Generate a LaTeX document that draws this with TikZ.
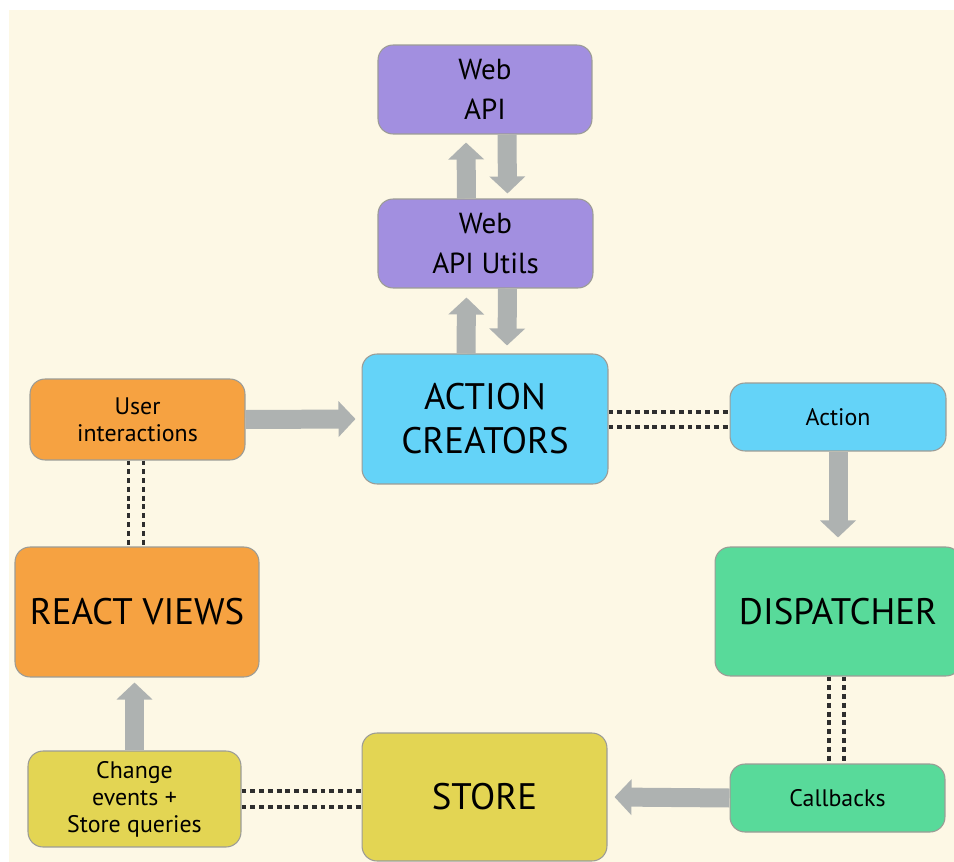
\documentclass[tikz,border=0pt]{standalone}
\usepackage{fontspec}
\setmainfont{PT Sans}
\usetikzlibrary{arrows.meta,calc}

\definecolor{bgcream}{HTML}{FDF8E5}
\definecolor{apipurple}{HTML}{A28FE0}
\definecolor{actioncyan}{HTML}{64D3F8}
\definecolor{vieworange}{HTML}{F6A241}
\definecolor{dispgreen}{HTML}{58DA9A}
\definecolor{storeyellow}{HTML}{E3D553}
\definecolor{arrowgray}{HTML}{AEB2B1}
\definecolor{edgegray}{HTML}{9C9C96}
\definecolor{dashgray}{HTML}{2E2E2E}

\tikzset{
  box/.style={rectangle, rounded corners=0.3cm, draw=edgegray, line width=0.6pt,
              align=center, inner sep=0pt, text=black},
  bigtext/.style={font=\fontsize{21}{25}\selectfont},
  midtext/.style={font=\fontsize{16.5}{23}\selectfont},
  smalltext/.style={font=\fontsize{13.6}{15.3}\selectfont},
  flowarrow/.style={draw=arrowgray, line width=0.38cm,
                    -{Triangle[width=0.70cm,length=0.34cm]}, arrowgray},
  linkpair/.style={draw=dashgray, line width=1.9pt, dash pattern=on 2.8pt off 2.2pt},
}

\begin{document}
\begin{tikzpicture}[x=0.02cm,y=-0.02cm]
  % canvas and cream backdrop
  \fill[white] (0,0) rectangle (954,862);
  \clip (0,0) rectangle (954,862);
  \fill[bgcream] (9,10) rectangle (954,862);

  % boxes
  \node[box, fill=apipurple, midtext, minimum width=4.28cm, minimum height=1.78cm]
    (webapi) at (485,89.5) {Web\\API};
  \node[box, fill=apipurple, midtext, minimum width=4.30cm, minimum height=1.78cm]
    (utils) at (485.5,243.5) {Web\\API Utils};
  \node[box, fill=actioncyan, bigtext, minimum width=4.92cm, minimum height=2.60cm]
    (ac) at (485,419) {ACTION\\CREATORS};
  \node[box, fill=actioncyan, smalltext, minimum width=4.32cm, minimum height=1.36cm]
    (action) at (838,417) {Action};
  \node[box, fill=vieworange, smalltext, minimum width=4.30cm, minimum height=1.62cm]
    (user) at (137.5,419.5) {User\\interactions};
  \node[box, fill=vieworange, bigtext, minimum width=4.88cm, minimum height=2.60cm]
    (react) at (137,612) {REACT VIEWS};
  \node[box, fill=dispgreen, bigtext, minimum width=4.92cm, minimum height=2.58cm]
    (disp) at (838,611.5) {DISPATCHER};
  \node[box, fill=dispgreen, smalltext, minimum width=4.30cm, minimum height=1.36cm]
    (callbacks) at (837.5,798) {Callbacks};
  \node[box, fill=storeyellow, bigtext, minimum width=4.90cm, minimum height=2.56cm]
    (store) at (484.5,797) {STORE};
  \node[box, fill=storeyellow, smalltext, minimum width=4.26cm, minimum height=1.92cm]
    (change) at (134.5,799) {Change\\events +\\Store queries};

  % solid flow arrows
  \draw[flowarrow] ($(webapi.south)+(22,0)$) -- ($(utils.north)+(22,-5)$);
  \draw[flowarrow] ($(utils.north)+(-19,0)$) -- ($(webapi.south)+(-19,8)$);
  \draw[flowarrow] ($(utils.south)+(22,0)$) -- ($(ac.north)+(22,-8)$);
  \draw[flowarrow] ($(ac.north)+(-19,0)$) -- ($(utils.south)+(-19,9)$);
  \draw[flowarrow] (user.east) -- ($(ac.west)+(-6,0)$);
  \draw[flowarrow] (action.south) -- ($(disp.north)+(0,-9)$);
  \draw[flowarrow] (callbacks.west) -- ($(store.east)+(7,0)$);
  \coordinate (reacttip) at ($(react.south -| change.north)+(0,5)$);
  \draw[flowarrow] (change.north) -- (reacttip);

  % dashed double links
  \coordinate (acA) at ($(ac.east)+(0,-7)$);
  \coordinate (acB) at ($(ac.east)+(0,8)$);
  \draw[linkpair] (acA) -- (acA -| action.west);
  \draw[linkpair] (acB) -- (acB -| action.west);

  \coordinate (uiA) at ($(user.south)+(-9,0)$);
  \coordinate (uiB) at ($(user.south)+(6,0)$);
  \draw[linkpair] (uiA) -- (uiA |- react.north);
  \draw[linkpair] (uiB) -- (uiB |- react.north);

  \coordinate (dpA) at ($(disp.south)+(-9,0)$);
  \coordinate (dpB) at ($(disp.south)+(6,0)$);
  \draw[linkpair] (dpA) -- (dpA |- callbacks.north);
  \draw[linkpair] (dpB) -- (dpB |- callbacks.north);

  \coordinate (chA) at ($(change.east)+(0,-8)$);
  \coordinate (chB) at ($(change.east)+(0,8)$);
  \draw[linkpair] (chA) -- (chA -| store.west);
  \draw[linkpair] (chB) -- (chB -| store.west);
\end{tikzpicture}
\end{document}
